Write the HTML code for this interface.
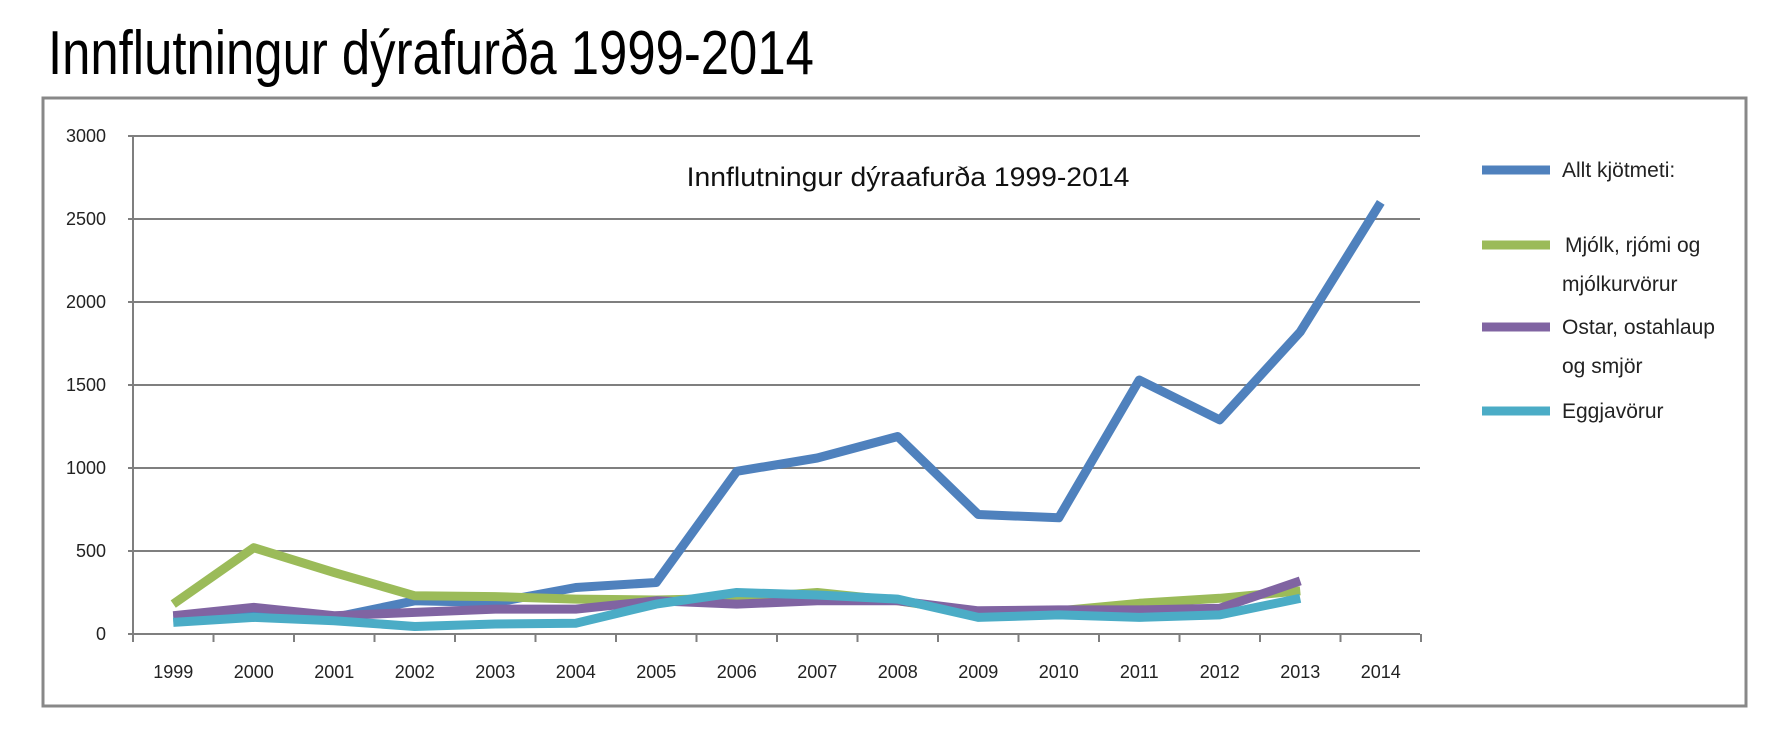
<!DOCTYPE html>
<html><head><meta charset="utf-8"><style>
html,body{margin:0;padding:0;background:#fff;width:1772px;height:741px;overflow:hidden}
</style></head><body>
<svg width="1772" height="741" viewBox="0 0 1772 741" xmlns="http://www.w3.org/2000/svg" font-family="Liberation Sans Narrow, Liberation Sans, sans-serif">
<text x="48" y="74" font-size="62" transform="translate(48 0) scale(0.82 1) translate(-48 0)" fill="#000">Innflutningur dýrafurða 1999-2014</text>
<rect x="43" y="98" width="1703" height="608" fill="#fff" stroke="#888" stroke-width="3"/>
<g stroke="#7f7f7f" stroke-width="2">
<line x1="128" y1="136" x2="1420" y2="136"/>
<line x1="128" y1="219" x2="1420" y2="219"/>
<line x1="128" y1="302" x2="1420" y2="302"/>
<line x1="128" y1="385" x2="1420" y2="385"/>
<line x1="128" y1="468" x2="1420" y2="468"/>
<line x1="128" y1="551" x2="1420" y2="551"/>
<line x1="128" y1="634" x2="1420" y2="634"/>
<line x1="133" y1="136" x2="133" y2="642"/>
</g>
<g stroke="#7f7f7f" stroke-width="2" id="ticks"></g>
<g font-size="18" fill="#222" text-anchor="end">
<text x="106" y="142">3000</text><text x="106" y="225">2500</text><text x="106" y="308">2000</text>
<text x="106" y="391">1500</text><text x="106" y="474">1000</text><text x="106" y="557">500</text><text x="106" y="640">0</text>
</g>
<g font-size="18" fill="#222" text-anchor="middle" id="xl"></g>
<text x="908" y="186" font-size="27" text-anchor="middle" fill="#111" font-family="Liberation Sans, sans-serif" transform="translate(908 0) scale(1.05 1) translate(-908 0)">Innflutningur dýraafurða 1999-2014</text>
<g fill="none" stroke-width="9" stroke-linejoin="round" stroke-linecap="butt" id="lines"></g>
<g stroke-width="9">
<line x1="1482" y1="170" x2="1550" y2="170" stroke="#4f81bd"/>
<line x1="1482" y1="245" x2="1550" y2="245" stroke="#9bbb59"/>
<line x1="1482" y1="327" x2="1550" y2="327" stroke="#8064a2"/>
<line x1="1482" y1="411" x2="1550" y2="411" stroke="#4bacc6"/>
</g>
<g font-size="21" fill="#222" font-family="Liberation Sans, sans-serif">
<text x="1562" y="177">Allt kjötmeti:</text>
<text x="1565" y="252">Mjólk, rjómi og</text><text x="1562" y="291">mjólkurvörur</text>
<text x="1562" y="334">Ostar, ostahlaup</text><text x="1562" y="373">og smjör</text>
<text x="1562" y="418">Eggjavörur</text>
</g>
</svg>
<script>
var ns="http://www.w3.org/2000/svg";
function el(p,t,a,txt){var e=document.createElementNS(ns,t);for(var k in a)e.setAttribute(k,a[k]);if(txt)e.textContent=txt;p.appendChild(e);}
var L=133,W=80.5,Y0=634,S=83/500;
var tk=document.getElementById('ticks'),xl=document.getElementById('xl');
for(var i=0;i<=16;i++)el(tk,'line',{x1:L+i*W,y1:634,x2:L+i*W,y2:642});
for(var i=0;i<16;i++)el(xl,'text',{x:L+W/2+i*W,y:678},String(1999+i));
var D=[["#4f81bd",[100,120,100,200,190,280,310,980,1060,1190,720,700,1530,1290,1820,2600]],
["#9bbb59",[180,520,370,230,225,210,205,215,250,200,130,140,185,215,260]],
["#8064a2",[110,160,110,130,150,150,200,180,200,200,140,145,145,155,320]],
["#4bacc6",[70,100,80,45,60,65,180,250,235,210,100,115,100,115,215]]];
var g=document.getElementById('lines');
D.forEach(function(s){var p=s[1].map(function(v,i){return (L+W/2+i*W)+","+(Y0-v*S).toFixed(1)}).join(" ");el(g,'polyline',{points:p,stroke:s[0]});});
</script>
</body></html>
